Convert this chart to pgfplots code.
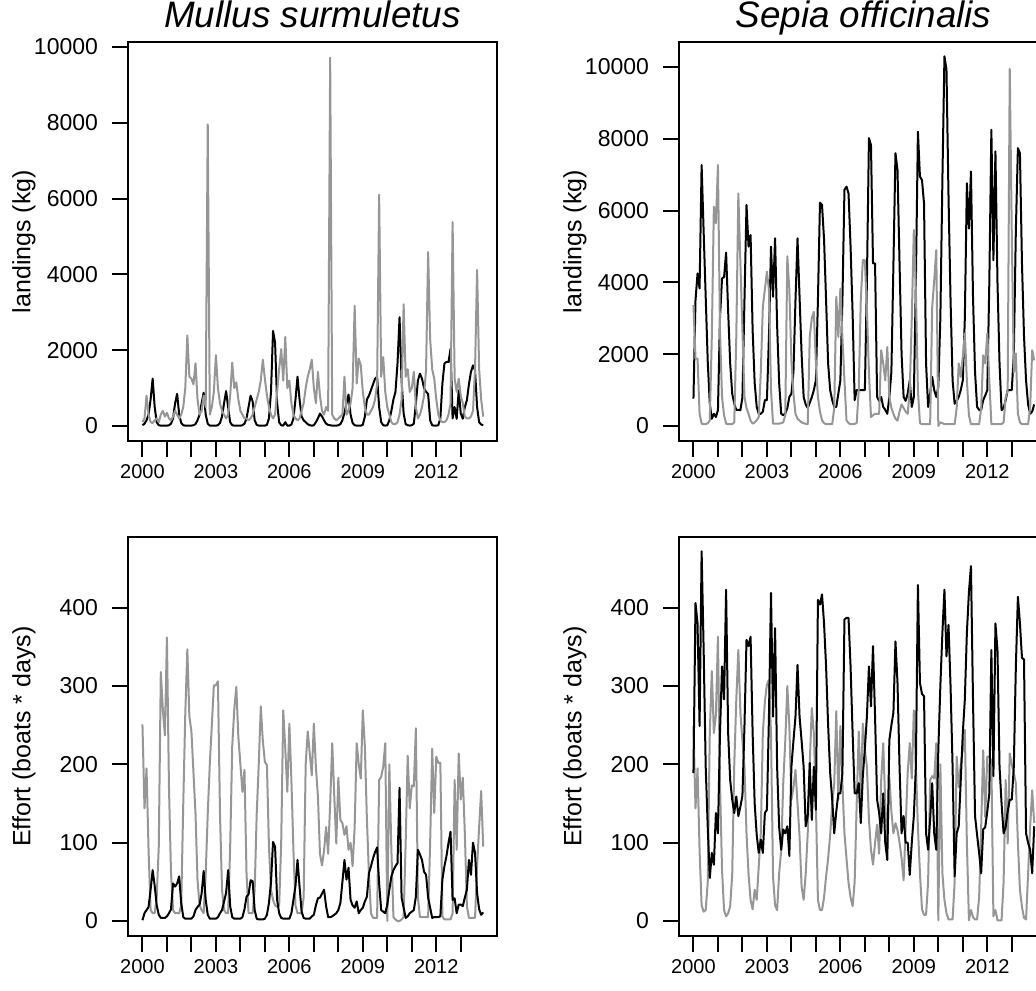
\documentclass[border=0pt]{standalone}
\usepackage{fontspec}
\setmainfont{Liberation Sans}
\usepackage{pgfplots}
\pgfplotsset{compat=1.18}
\usepackage{pgfplotstable}

% ---------------- Mullus surmuletus, landings ----------------
\pgfplotstableread[row sep=\\]{
v\\
20\\60\\150\\300\\700\\1250\\500\\100\\20\\10\\10\\10\\
10\\20\\60\\200\\600\\850\\300\\80\\20\\10\\10\\10\\
10\\20\\50\\150\\300\\600\\880\\300\\60\\10\\10\\10\\
10\\20\\80\\250\\600\\920\\500\\100\\20\\10\\10\\10\\
10\\20\\60\\200\\500\\800\\650\\150\\30\\10\\10\\10\\
10\\30\\200\\900\\2510\\2200\\600\\100\\20\\10\\100\\10\\
10\\40\\200\\700\\1300\\700\\250\\150\\100\\50\\20\\10\\
20\\100\\200\\330\\250\\150\\60\\30\\20\\10\\10\\10\\
20\\50\\150\\350\\600\\830\\300\\80\\20\\10\\10\\10\\
30\\250\\700\\800\\950\\1100\\1250\\1295\\500\\100\\20\\10\\
20\\150\\400\\700\\900\\1650\\2870\\1200\\330\\50\\20\\10\\
20\\60\\590\\1200\\1380\\1250\\1000\\900\\850\\150\\20\\10\\
10\\20\\200\\1120\\1650\\1690\\1690\\2040\\200\\500\\190\\940\\
330\\190\\500\\680\\1100\\1430\\1600\\1470\\500\\100\\40\\20\\
}\MLb
\pgfplotstableread[row sep=\\]{
v\\
100\\200\\800\\300\\100\\80\\150\\200\\100\\300\\400\\250\\
350\\200\\150\\250\\400\\300\\200\\300\\500\\1000\\2390\\1300\\
1250\\1100\\1650\\700\\300\\400\\800\\500\\7960\\300\\500\\900\\
1870\\1000\\600\\400\\300\\200\\300\\800\\1670\\1000\\1150\\700\\
400\\300\\200\\200\\150\\200\\300\\500\\700\\900\\1200\\1750\\
1250\\800\\500\\300\\200\\300\\900\\1500\\2030\\1200\\2350\\1000\\
1200\\600\\300\\200\\150\\200\\400\\600\\1000\\1300\\1500\\1750\\
1000\\600\\1430\\800\\400\\300\\500\\400\\9720\\300\\200\\150\\
200\\250\\300\\1300\\300\\400\\600\\1000\\3170\\1120\\1780\\1600\\
900\\500\\300\\300\\400\\500\\700\\1100\\6100\\1300\\1820\\900\\
500\\300\\100\\50\\50\\100\\300\\700\\3210\\1300\\1500\\900\\
1000\\1430\\500\\200\\300\\500\\800\\1500\\4590\\2290\\1500\\1250\\
700\\300\\150\\100\\100\\150\\300\\600\\5380\\1250\\900\\1250\\
800\\600\\250\\200\\200\\250\\400\\1500\\4120\\1500\\700\\250\\
}\MLg
% ---------------- Sepia officinalis, landings ----------------
\pgfplotstableread[row sep=\\]{
v\\
760\\3500\\4250\\3830\\7270\\5400\\3600\\1800\\620\\200\\340\\250\\
440\\3000\\4110\\4150\\4830\\3200\\1740\\900\\620\\450\\450\\440\\
800\\3500\\6160\\5000\\5320\\2670\\1200\\530\\340\\340\\400\\720\\
720\\2500\\5000\\3600\\5230\\2800\\1200\\340\\300\\350\\500\\810\\
900\\1500\\3500\\5230\\3600\\2000\\810\\600\\500\\650\\800\\1000\\
1270\\3500\\6220\\6160\\5200\\3500\\1740\\1000\\720\\530\\530\\900\\
1270\\3500\\6580\\6670\\6480\\5000\\3130\\720\\1000\\1000\\1000\\1000\\
1000\\4000\\8020\\7830\\4530\\4530\\810\\700\\810\\530\\450\\340\\
810\\1500\\4500\\7600\\7130\\4530\\2000\\810\\700\\900\\1270\\530\\
810\\4000\\8200\\6950\\6850\\6200\\1740\\530\\900\\1370\\1000\\810\\
1090\\3000\\6860\\10300\\9930\\6390\\3500\\1270\\620\\700\\810\\1000\\
1270\\3000\\6760\\5500\\7090\\3600\\1500\\530\\450\\440\\720\\850\\
1000\\4000\\8250\\4620\\7650\\4000\\1740\\440\\500\\720\\1000\\1000\\
1000\\2000\\5460\\7740\\7600\\4530\\2500\\1270\\600\\340\\400\\600\\
}\SLb
\pgfplotstableread[row sep=\\]{
v\\
3370\\1880\\1880\\340\\65\\50\\50\\80\\150\\2500\\6110\\5650\\
7270\\2670\\810\\300\\65\\50\\50\\50\\100\\2500\\6480\\4530\\
2670\\810\\500\\340\\150\\65\\100\\160\\250\\1500\\3320\\3800\\
4300\\3790\\1000\\65\\65\\65\\65\\80\\100\\300\\4730\\3790\\
1830\\900\\340\\200\\150\\100\\80\\60\\50\\2500\\3000\\3180\\
1740\\810\\400\\160\\80\\50\\50\\50\\50\\500\\3600\\2480\\
3830\\2480\\1270\\160\\80\\50\\50\\60\\80\\1000\\3500\\4620\\
4620\\3230\\1500\\250\\300\\340\\340\\340\\2110\\1740\\1270\\2200\\
810\\500\\340\\200\\150\\400\\600\\500\\400\\340\\1000\\3000\\
5460\\3790\\1000\\80\\50\\50\\50\\50\\50\\3320\\4060\\4900\\
0\\100\\80\\50\\50\\50\\50\\50\\50\\500\\1740\\1370\\
1930\\2580\\1270\\300\\50\\50\\50\\50\\50\\500\\1970\\1740\\
2580\\1270\\50\\50\\50\\50\\50\\50\\100\\800\\1000\\9950\\
5400\\1500\\2020\\340\\100\\50\\50\\50\\50\\500\\2110\\1830\\
}\SLg
% ---------------- Mullus surmuletus, effort ----------------
\pgfplotstableread[row sep=\\]{
v\\
1\\10\\14\\18\\40\\65\\45\\20\\8\\4\\4\\4\\
6\\10\\15\\48\\44\\48\\57\\23\\5\\3\\3\\3\\
3\\6\\14\\18\\21\\35\\64\\27\\8\\3\\3\\3\\
3\\5\\10\\14\\25\\36\\65\\19\\5\\3\\3\\3\\
3\\5\\15\\31\\34\\52\\51\\14\\3\\2\\2\\2\\
3\\8\\23\\50\\101\\95\\27\\10\\4\\3\\3\\3\\
3\\10\\27\\45\\78\\44\\12\\4\\3\\3\\3\\6\\
8\\20\\29\\30\\35\\40\\19\\5\\5\\6\\8\\10\\
14\\23\\50\\78\\53\\68\\27\\20\\17\\25\\10\\14\\
17\\25\\31\\61\\70\\80\\88\\94\\48\\14\\12\\10\\
21\\40\\57\\65\\70\\74\\170\\30\\17\\4\\6\\10\\
12\\14\\31\\91\\85\\78\\63\\59\\30\\17\\4\\5\\
5\\5\\6\\53\\70\\83\\100\\114\\27\\29\\10\\21\\
21\\19\\30\\40\\78\\59\\100\\87\\36\\15\\8\\11\\
}\MEb
\pgfplotstableread[row sep=\\]{
v\\
251\\144\\195\\90\\14\\10\\10\\31\\95\\318\\270\\237\\
362\\171\\61\\14\\10\\10\\10\\20\\150\\265\\347\\261\\
242\\190\\137\\52\\20\\14\\10\\60\\137\\200\\250\\301\\
301\\306\\137\\40\\14\\10\\10\\95\\223\\270\\299\\235\\
200\\165\\193\\61\\10\\10\\10\\40\\137\\200\\274\\230\\
203\\199\\95\\40\\27\\20\\18\\20\\100\\269\\220\\165\\
252\\180\\90\\20\\10\\10\\10\\30\\200\\242\\214\\186\\
252\\197\\159\\86\\71\\90\\120\\86\\150\\227\\160\\99\\
183\\129\\125\\110\\121\\91\\100\\70\\120\\227\\200\\182\\
269\\223\\130\\60\\10\\4\\4\\4\\180\\184\\197\\227\\
0\\200\\90\\5\\2\\0\\0\\2\\5\\100\\211\\144\\
173\\172\\246\\30\\5\\5\\5\\5\\5\\100\\220\\138\\
210\\202\\202\\6\\2\\2\\2\\2\\10\\180\\91\\214\\
155\\183\\112\\19\\4\\4\\4\\4\\70\\120\\166\\95\\
}\MEg
% ---------------- Sepia officinalis, effort ----------------
\pgfplotstableread[row sep=\\]{
v\\
189\\406\\380\\249\\472\\346\\197\\120\\55\\87\\72\\138\\
112\\240\\325\\283\\423\\240\\180\\155\\138\\159\\134\\146\\
160\\249\\359\\351\\363\\240\\150\\110\\87\\104\\87\\138\\
142\\261\\419\\261\\374\\197\\120\\91\\117\\112\\121\\83\\
197\\230\\261\\327\\261\\230\\197\\121\\134\\202\\129\\197\\
142\\410\\404\\417\\380\\325\\250\\189\\155\\112\\140\\163\\
163\\189\\385\\387\\387\\325\\240\\163\\163\\176\\125\\185\\
220\\261\\325\\274\\351\\261\\155\\138\\112\\163\\100\\78\\
231\\250\\266\\357\\304\\197\\112\\134\\100\\100\\59\\100\\
134\\197\\429\\304\\290\\287\\112\\91\\130\\176\\112\\91\\
219\\300\\368\\423\\338\\378\\300\\197\\57\\112\\121\\180\\
240\\283\\368\\420\\453\\283\\134\\110\\87\\61\\117\\120\\
140\\163\\346\\185\\380\\346\\197\\150\\112\\120\\140\\155\\
155\\197\\325\\414\\380\\336\\334\\112\\100\\91\\61\\121\\
}\SEb
\pgfplotstableread[row sep=\\]{
v\\
249\\144\\195\\90\\20\\12\\14\\49\\240\\319\\240\\263\\
363\\176\\66\\14\\6\\10\\19\\60\\200\\283\\346\\266\\
230\\197\\112\\60\\27\\15\\40\\27\\70\\112\\240\\280\\
302\\308\\240\\57\\20\\14\\61\\90\\176\\230\\300\\249\\
155\\170\\193\\150\\108\\44\\27\\60\\112\\202\\272\\240\\
150\\27\\14\\14\\30\\57\\80\\110\\150\\176\\268\\155\\
249\\176\\112\\80\\49\\30\\19\\50\\150\\242\\163\\252\\
220\\197\\130\\91\\72\\100\\123\\86\\180\\227\\150\\101\\
184\\140\\112\\125\\116\\100\\80\\52\\120\\190\\227\\182\\
269\\200\\120\\61\\15\\8\\8\\50\\180\\185\\182\\227\\
1\\200\\61\\27\\10\\2\\2\\2\\50\\210\\171\\200\\
219\\244\\100\\1\\14\\5\\2\\2\\30\\120\\218\\133\\
210\\210\\205\\6\\14\\1\\1\\1\\50\\180\\99\\214\\
200\\189\\176\\100\\40\\18\\4\\2\\60\\120\\167\\125\\
}\SEg

\definecolor{rgray}{RGB}{150,150,150}

\pgfplotsset{
  rpanel/.style={
    scale only axis, width=184.5pt, height=199.5pt,
    anchor=south west,
    xmin=1999.41, xmax=2014.48,
    axis line style={line width=1pt},
    tick pos=left, tick align=outside,
    major tick length=8pt,
    every tick/.style={black, line width=1pt},
    xtick={2000,...,2013},
    xticklabels={2000,,,2003,,,2006,,,2009,,,2012,},
    xticklabel style={font=\fontsize{10}{12}\selectfont},
    yticklabel style={font=\fontsize{11.5}{13}\selectfont, xshift=-3.5pt},
    /pgf/number format/assume math mode=true,
    /pgf/number format/1000 sep={},
    scaled y ticks=false,
    every axis title shift=0pt,
    title style={font=\fontsize{18.4}{21}\selectfont\itshape, at={(axis description cs:0.5,1)}, anchor=base, yshift=7pt},
    every axis y label/.style={at={(axis description cs:-0.282,0.5)}, rotate=90, anchor=center, font=\fontsize{12.5}{14}\selectfont},
  },
  blk/.style={black, line width=1pt, line join=round, mark=none},
  gry/.style={rgray, line width=1pt, line join=round, mark=none},
}

\begin{document}
\begin{tikzpicture}
\useasboundingbox (0,0) rectangle (518pt,495pt);
\clip (0,0) rectangle (518pt,495pt);

% top left
\begin{axis}[rpanel, at={(64pt,274.5pt)},
  ymin=-396, ymax=10134, ytick={0,2000,...,10000},
  title={Mullus surmuletus}, ylabel={landings (kg)}]
\addplot[blk] table[x expr=2000+\coordindex/12, y=v] {\MLb};
\addplot[gry] table[x expr=2000+\coordindex/12, y=v] {\MLg};
\end{axis}

% top right
\begin{axis}[rpanel, at={(339.5pt,274.5pt)},
  ymin=-418, ymax=10698, ytick={0,2000,...,10000},
  title={Sepia officinalis}, ylabel={landings (kg)}]
\addplot[blk] table[x expr=2000+\coordindex/12, y=v] {\SLb};
\addplot[gry] table[x expr=2000+\coordindex/12, y=v] {\SLg};
\end{axis}

% bottom left
\begin{axis}[rpanel, at={(64pt,27pt)},
  ymin=-19.1, ymax=490.3, ytick={0,100,...,400},
  ylabel={Effort (boats * days)}]
\addplot[gry] table[x expr=2000+\coordindex/12, y=v] {\MEg};
\addplot[blk] table[x expr=2000+\coordindex/12, y=v] {\MEb};
\end{axis}

% bottom right
\begin{axis}[rpanel, at={(339.5pt,27pt)},
  ymin=-19.1, ymax=490.3, ytick={0,100,...,400},
  ylabel={Effort (boats * days)}]
\addplot[gry] table[x expr=2000+\coordindex/12, y=v] {\SEg};
\addplot[blk] table[x expr=2000+\coordindex/12, y=v] {\SEb};
\end{axis}
\end{tikzpicture}
\end{document}
